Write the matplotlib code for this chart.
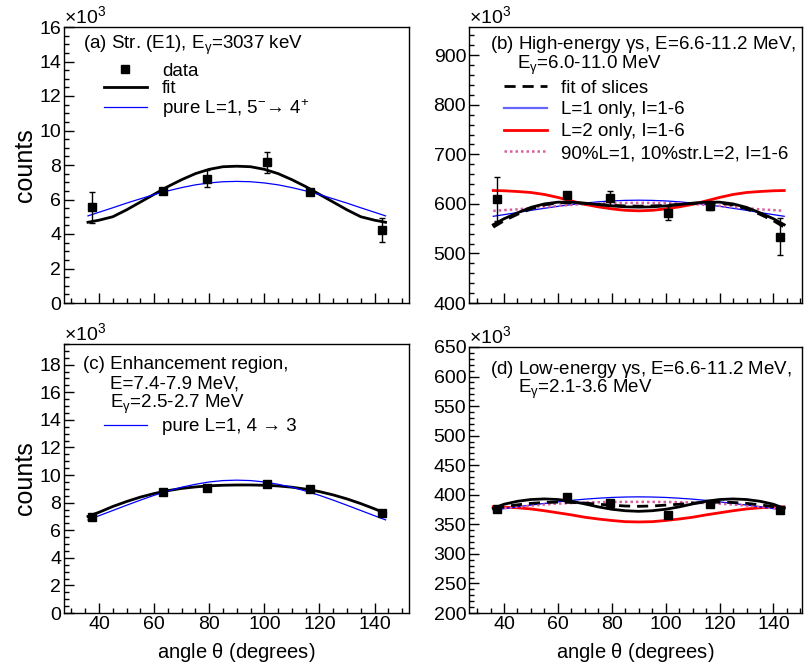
import matplotlib
matplotlib.use("Agg")
import matplotlib.pyplot as plt
from matplotlib.ticker import MultipleLocator, AutoMinorLocator
from matplotlib.lines import Line2D

plt.rcParams['font.family'] = ['Liberation Sans', 'DejaVu Sans']
plt.rcParams['mathtext.fontset'] = 'custom'
plt.rcParams['mathtext.rm'] = 'Liberation Sans'
plt.rcParams['mathtext.it'] = 'Liberation Sans'
plt.rcParams['mathtext.bf'] = 'Liberation Sans:bold'

# ---------------- data ----------------
angles = [37.4, 63.4, 79.2, 100.8, 116.6, 142.6]
theta_curve = [36, 40, 45, 50, 55, 60, 65, 70, 75, 80, 85, 90, 95, 100,
               105, 110, 115, 120, 125, 130, 135, 140, 144]

# panel (a)  [x10^3]
a_data = [5.55, 6.47, 7.20, 8.15, 6.41, 4.23]
a_err = [0.90, 0.12, 0.50, 0.60, 0.12, 0.70]
a_fit = [4.68, 4.80, 5.00, 5.40, 5.85, 6.30, 6.75, 7.15, 7.50, 7.75, 7.90, 7.93,
         7.90, 7.75, 7.50, 7.15, 6.75, 6.30, 5.85, 5.40, 5.00, 4.80, 4.68]
a_pure = [5.05, 5.26, 5.52, 5.79, 6.04, 6.29, 6.50, 6.69, 6.85, 6.96, 7.03, 7.05,
          7.03, 6.96, 6.85, 6.69, 6.50, 6.29, 6.04, 5.79, 5.52, 5.26, 5.05]

# panel (b)  [x10^3]
b_data = [610, 617, 612, 582, 595, 534]
b_err = [45, 8, 15, 14, 8, 37]
b_fit = [558, 570, 582, 593, 600, 603.5, 603.5, 601.5, 598.5, 596, 594, 593.5,
         594, 596, 598.5, 601.5, 603.5, 603.5, 600, 593, 582, 570, 558]
b_slices = [553, 566, 579, 590, 598, 602, 602.5, 601, 599, 597, 596, 595.5,
            596, 597, 599, 601, 602.5, 602, 598, 590, 579, 566, 553]
b_L1 = [575, 578.3, 582.6, 587, 591.1, 595.1, 598.6, 601.7, 604.2, 606, 607.1, 607.5,
        607.1, 606, 604.2, 601.7, 598.6, 595.1, 591.1, 587, 582.6, 578.3, 575]
b_L2 = [627, 626.5, 625, 623, 619, 613, 606, 599, 594, 590, 587, 586,
        587, 590, 594, 599, 606, 613, 619, 623, 625, 626.5, 627]
b_mix = [586, 587.5, 589, 591.5, 594, 596, 598, 599.5, 600.8, 601.5, 602, 602,
         602, 601.5, 600.8, 599.5, 598, 596, 594, 591.5, 589, 587.5, 586]

# panel (c)  [x10^3]
c_data = [6.93, 8.79, 9.08, 9.32, 8.96, 7.27]
c_err = [0.15, 0.15, 0.15, 0.15, 0.15, 0.15]
c_fit = [7.00, 7.30, 7.72, 8.08, 8.40, 8.66, 8.87, 9.03, 9.14, 9.22, 9.26, 9.28,
         9.28, 9.26, 9.21, 9.12, 8.98, 8.80, 8.56, 8.27, 7.93, 7.55, 7.22]
c_pure = [6.75, 7.05, 7.43, 7.81, 8.18, 8.53, 8.84, 9.12, 9.33, 9.50, 9.60, 9.63,
          9.60, 9.50, 9.33, 9.12, 8.84, 8.53, 8.18, 7.81, 7.43, 7.05, 6.75]

# panel (d)  [x10^3]
d_data = [376, 395.5, 385.4, 366.4, 384.4, 374.3]
d_err = [4, 4, 4, 4, 4, 4]
d_fit = [377, 384, 389, 392, 393, 392, 389, 384.5, 379.5, 375.5, 373, 372,
         373, 375.5, 379.5, 384.5, 389, 392, 393, 392, 389, 384, 377]
d_slices = [376, 380, 383, 385.5, 387, 387.5, 387, 386, 384, 382.5, 381, 380.5,
            381, 382.5, 384, 386, 387, 387.5, 387, 385.5, 383, 380, 376]
d_L1 = [374, 376.5, 379.7, 382.6, 385.4, 388, 390.5, 392.6, 394.2, 395.5, 396.2, 396.5,
        396.2, 395.5, 394.2, 392.6, 390.5, 388, 385.4, 382.6, 379.7, 376.5, 374]
d_L2 = [379.5, 379, 378, 376, 373, 369.5, 366, 362, 359, 356.5, 354.5, 354,
        354.5, 356.5, 359, 362, 366, 369.5, 373, 376, 378, 379, 379.5]
d_mix = [376, 377.5, 379.5, 381.5, 383.5, 385, 386, 387, 387.5, 387.8, 388, 388,
         388, 387.8, 387.5, 387, 386, 385, 383.5, 381.5, 379.5, 377.5, 376]

# ---------------- styles ----------------
TICK_FS = 14
LEG_FS = 13.5
BLUE = '#0000ff'
LBLUE = '#6666ff'
RED = '#ff0000'
PINK = '#d9609e'

fig = plt.figure(figsize=(8.1, 6.66), dpi=100)
W, H = 810.0, 666.0


def make_ax(l, r, t, b):
    return fig.add_axes([l / W, 1 - b / H, (r - l) / W, (b - t) / H])


axA = make_ax(64, 409, 27, 303)
axB = make_ax(469, 802, 27, 303)
axC = make_ax(64, 409, 344, 613)
axD = make_ax(469, 802, 347, 613)


def style(ax, xlim, ylim, ymaj, ymin_div, xlabels=True):
    ax.set_xlim(*xlim)
    ax.set_ylim(*ylim)
    ax.xaxis.set_major_locator(MultipleLocator(20))
    ax.xaxis.set_minor_locator(AutoMinorLocator(4))
    ax.yaxis.set_major_locator(MultipleLocator(ymaj))
    ax.yaxis.set_minor_locator(AutoMinorLocator(ymin_div))
    ax.tick_params(which='both', direction='in', top=False, right=False,
                   labelsize=TICK_FS, width=1.0, pad=2)
    ax.tick_params(which='major', length=7)
    ax.tick_params(which='minor', length=3.5)
    for s in ax.spines.values():
        s.set_linewidth(1.0)
    if not xlabels:
        ax.tick_params(labelbottom=False)
    ax.text(0.0, 1.0, r'$\times$10$^{3}$', transform=ax.transAxes,
            ha='left', va='bottom', fontsize=14)


style(axA, (27.3, 152.5), (0, 16), 2, 4, xlabels=False)
style(axB, (27.0, 150.6), (400, 957), 100, 5, xlabels=False)
style(axC, (27.3, 152.5), (0, 19.5), 2, 4)
style(axD, (27.0, 150.6), (200, 650), 50, 5)

for ax in (axA, axC):
    ax.set_ylabel('counts', fontsize=18, labelpad=2)
for ax in (axC, axD):
    ax.set_xlabel(r'angle $\theta$ (degrees)', fontsize=14.5, labelpad=6)


def data_points(ax, y, e):
    ax.errorbar(angles, y, yerr=e, fmt='s', color='black', ms=6.2,
                elinewidth=1.0, capsize=2, capthick=1.0, zorder=5)


# ----- panel a -----
axA.plot(theta_curve, a_fit, color='black', lw=2.0, zorder=3)
axA.plot(theta_curve, a_pure, color=BLUE, lw=0.9, zorder=4)
data_points(axA, a_data, a_err)
axA.text(0.056, 0.935, r'(a) Str. (E1), E$_{\gamma}$=3037 keV', transform=axA.transAxes,
         fontsize=LEG_FS, ha='left', va='center')
hA = [Line2D([], [], marker='s', ls='none', color='black', ms=6.2),
      Line2D([], [], color='black', lw=2.0),
      Line2D([], [], color=BLUE, lw=0.9)]
axA.legend(hA, ['data', 'fit', r'pure L=1, 5$^{-}$→ 4$^{+}$'],
           loc='upper left', bbox_to_anchor=(0.115, 0.87), frameon=False,
           fontsize=LEG_FS, handlelength=2.3, handletextpad=0.8,
           labelspacing=0.0, borderaxespad=0, borderpad=0)

# ----- panel b -----
axB.plot(theta_curve, b_L2, color=RED, lw=2.0, zorder=3)
axB.plot(theta_curve, b_L1, color=BLUE, lw=0.9, zorder=3)
axB.plot(theta_curve, b_mix, color=PINK, lw=1.8, ls=(0, (1, 1.2)), zorder=3)
axB.plot(theta_curve, b_fit, color='black', lw=2.0, zorder=4)
axB.plot(theta_curve, b_slices, color='black', lw=2.0, ls=(0, (4, 2.5)), zorder=4)
data_points(axB, b_data, b_err)
axB.text(0.063, 0.935, r'(b) High-energy $\gamma$s, E=6.6-11.2 MeV,', transform=axB.transAxes,
         fontsize=LEG_FS, ha='left', va='center')
axB.text(0.143, 0.862, r'E$_{\gamma}$=6.0-11.0 MeV', transform=axB.transAxes,
         fontsize=LEG_FS, ha='left', va='center')
hB = [Line2D([], [], color='black', lw=2.0, ls=(0, (4, 2.5))),
      Line2D([], [], color=LBLUE, lw=1.6),
      Line2D([], [], color=RED, lw=2.0),
      Line2D([], [], color=PINK, lw=1.8, ls=(0, (1, 1.2)))]
axB.legend(hB, ['fit of slices', 'L=1 only, I=1-6', 'L=2 only, I=1-6',
                '90%L=1, 10%str.L=2, I=1-6'],
           loc='upper left', bbox_to_anchor=(0.105, 0.81), frameon=False,
           fontsize=LEG_FS, handlelength=2.3, handletextpad=0.75,
           labelspacing=0.25, borderaxespad=0, borderpad=0)

# ----- panel c -----
axC.plot(theta_curve, c_fit, color='black', lw=2.0, zorder=3)
axC.plot(theta_curve, c_pure, color=BLUE, lw=0.9, zorder=4)
data_points(axC, c_data, c_err)
axC.text(0.056, 0.925, '(c) Enhancement region,', transform=axC.transAxes,
         fontsize=LEG_FS, ha='left', va='center')
axC.text(0.134, 0.85, 'E=7.4-7.9 MeV,', transform=axC.transAxes,
         fontsize=LEG_FS, ha='left', va='center')
axC.text(0.134, 0.775, r'E$_{\gamma}$=2.5-2.7 MeV', transform=axC.transAxes,
         fontsize=LEG_FS, ha='left', va='center')
hC = [Line2D([], [], color=BLUE, lw=0.9)]
axC.legend(hC, ['pure L=1, 4 → 3'],
           loc='upper left', bbox_to_anchor=(0.115, 0.725), frameon=False,
           fontsize=LEG_FS, handlelength=2.3, handletextpad=0.8,
           borderaxespad=0, borderpad=0)

# ----- panel d -----
axD.plot(theta_curve, d_L2, color=RED, lw=2.0, zorder=3)
axD.plot(theta_curve, d_L1, color=BLUE, lw=0.9, zorder=3)
axD.plot(theta_curve, d_mix, color=PINK, lw=1.8, ls=(0, (1, 1.2)), zorder=3)
axD.plot(theta_curve, d_fit, color='black', lw=2.0, zorder=4)
axD.plot(theta_curve, d_slices, color='black', lw=2.0, ls=(0, (4, 2.5)), zorder=4)
data_points(axD, d_data, d_err)
axD.text(0.063, 0.915, r'(d) Low-energy $\gamma$s, E=6.6-11.2 MeV,', transform=axD.transAxes,
         fontsize=LEG_FS, ha='left', va='center')
axD.text(0.146, 0.84, r'E$_{\gamma}$=2.1-3.6 MeV', transform=axD.transAxes,
         fontsize=LEG_FS, ha='left', va='center')

fig.savefig('out.png', dpi=100)
